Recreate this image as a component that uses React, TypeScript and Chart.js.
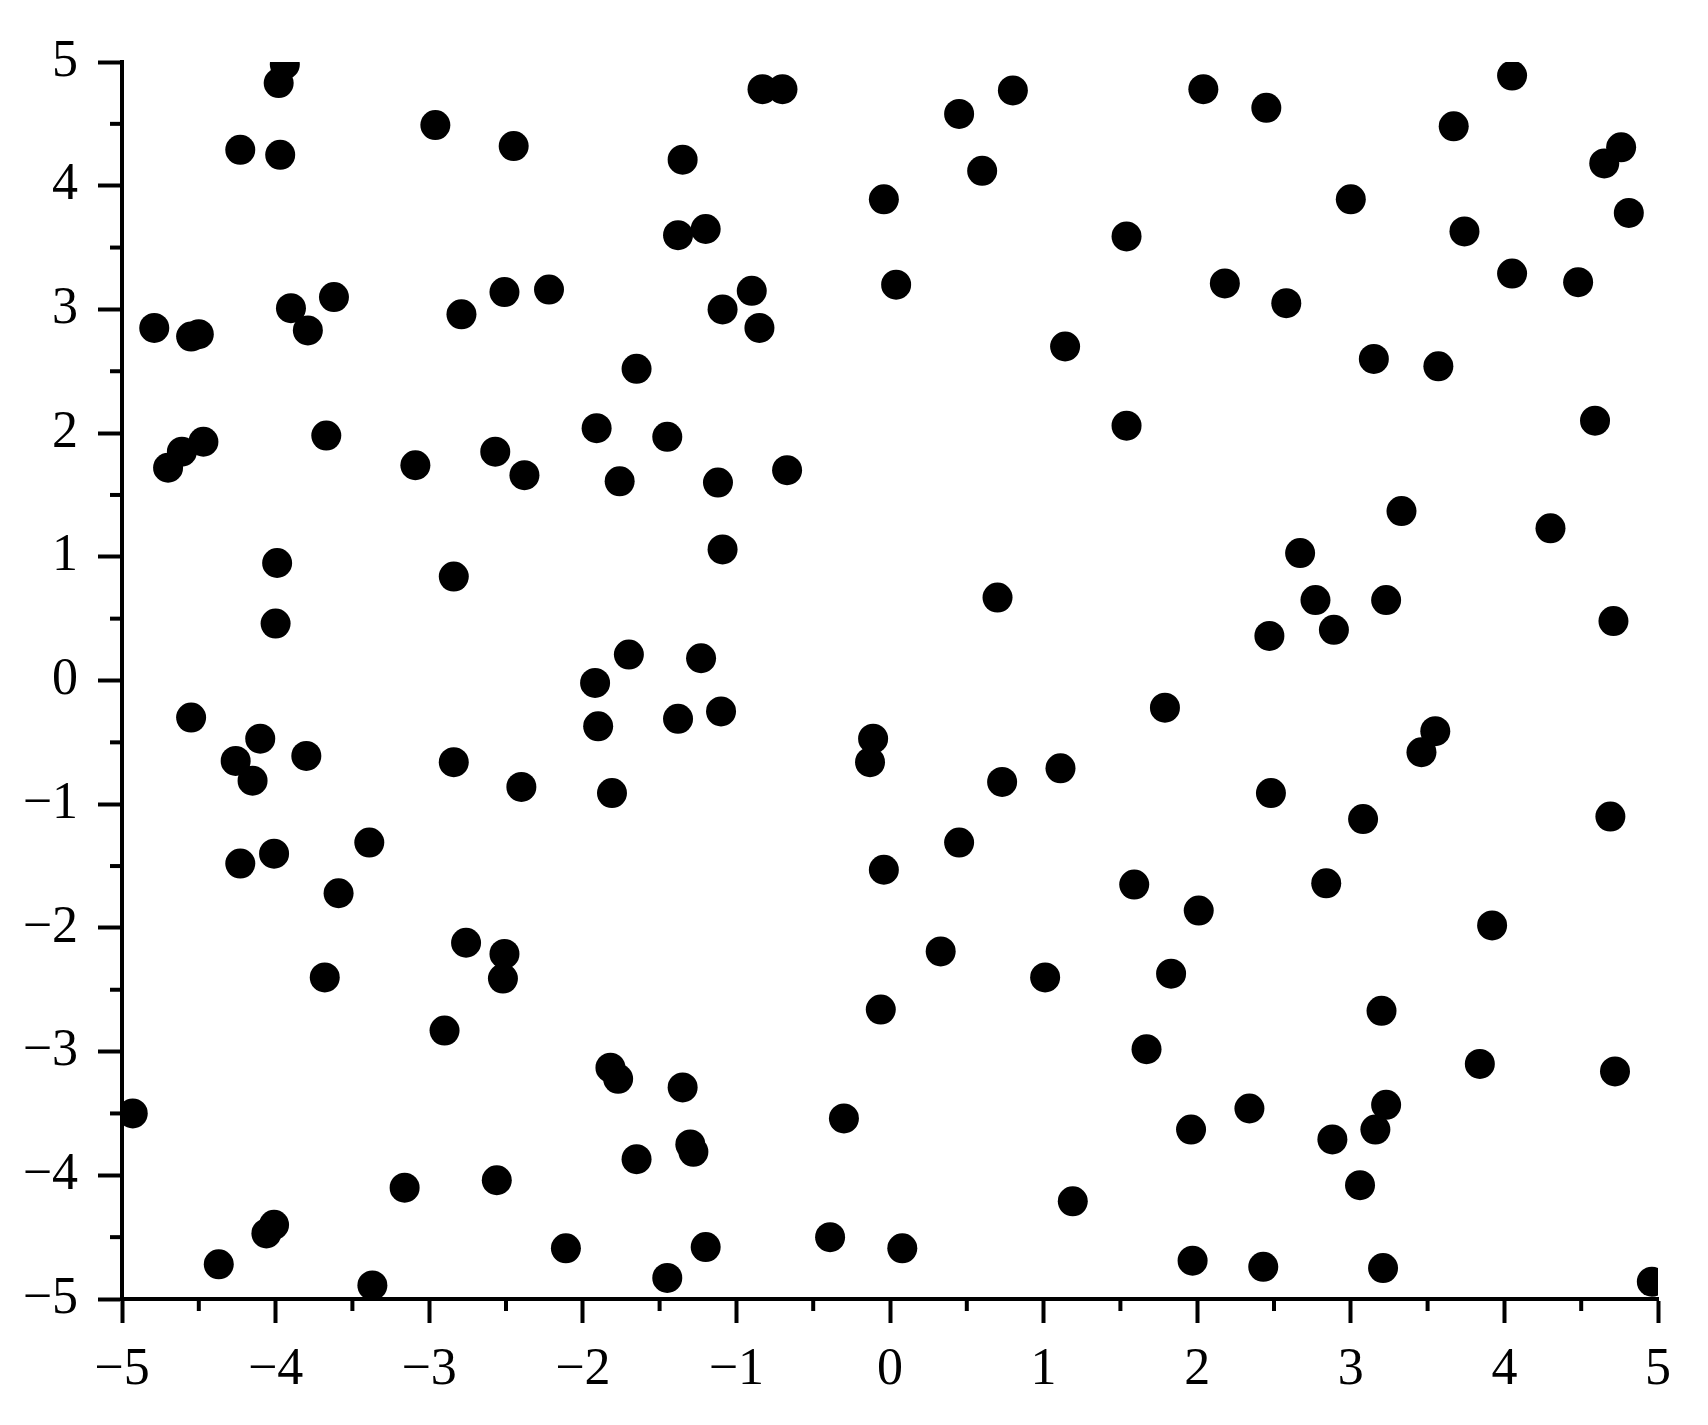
import React, { useEffect, useRef } from "react";
import { Chart, registerables } from "chart.js";

Chart.register(...registerables);

const xValues: number[] = [
  -4.93, -4.79, -4.70, -4.61, -4.47, -4.55, -4.50, -4.55, -4.23, -4.26,
  -4.15, -4.10, -4.23, -4.01, -4.37, -4.06, -4.01, -3.98, -3.94, -3.97,
  -3.90, -3.79, -3.62, -3.67, -3.99, -4.00, -3.80, -3.59, -3.68, -3.39,
  -3.37, -3.16, -2.96, -3.09, -2.79, -2.84, -2.84, -2.76, -2.90, -2.51,
  -2.45, -2.57, -2.38, -2.40, -2.51, -2.52, -2.56, -2.22, -2.11, -1.91,
  -1.65, -1.76, -1.92, -1.90, -1.70, -1.81, -1.82, -1.77, -1.65, -1.45,
  -1.45, -1.38, -1.35, -1.20, -1.38, -1.23, -1.35, -1.30, -1.28, -1.20,
  -1.09, -1.12, -1.09, -1.10, -0.90, -0.85, -0.83, -0.70, -0.67, -0.30,
  -0.39, -0.04, 0.04, -0.11, -0.13, -0.04, -0.06, 0.08, 0.45, 0.60,
  0.80, 0.70, 0.73, 0.45, 0.33, 1.14, 1.11, 1.01, 1.19, 1.54,
  1.54, 1.79, 1.59, 1.67, 1.83, 2.01, 1.96, 1.97, 2.04, 2.18,
  2.45, 2.58, 2.34, 2.43, 2.47, 2.48, 2.67, 2.77, 2.89, 2.84,
  2.88, 3.00, 3.15, 3.33, 3.23, 3.08, 3.20, 3.23, 3.16, 3.06,
  3.21, 3.57, 3.67, 3.74, 3.46, 3.55, 3.92, 3.84, 4.05, 4.05,
  4.30, 4.48, 4.59, 4.65, 4.76, 4.81, 4.71, 4.69, 4.72, 4.96,
];

const yValues: number[] = [
  -3.50, 2.85, 1.72, 1.85, 1.93, 2.78, 2.80, -0.30, 4.29, -0.65,
  -0.81, -0.47, -1.48, -1.40, -4.72, -4.47, -4.40, 4.83, 4.98, 4.25,
  3.01, 2.83, 3.10, 1.98, 0.95, 0.46, -0.61, -1.72, -2.40, -1.31,
  -4.89, -4.10, 4.49, 1.74, 2.96, 0.84, -0.66, -2.12, -2.83, 3.14,
  4.32, 1.85, 1.66, -0.86, -2.21, -2.41, -4.04, 3.16, -4.59, 2.04,
  2.52, 1.61, -0.02, -0.37, 0.21, -0.91, -3.13, -3.22, -3.87, -4.83,
  1.97, 3.60, 4.21, 3.65, -0.31, 0.18, -3.29, -3.75, -3.81, -4.58,
  3.00, 1.60, 1.06, -0.25, 3.15, 2.85, 4.78, 4.78, 1.70, -3.54,
  -4.50, 3.89, 3.20, -0.47, -0.66, -1.53, -2.66, -4.59, 4.58, 4.12,
  4.77, 0.67, -0.82, -1.31, -2.19, 2.70, -0.71, -2.40, -4.21, 3.59,
  2.06, -0.22, -1.65, -2.98, -2.37, -1.86, -3.63, -4.69, 4.78, 3.21,
  4.63, 3.05, -3.46, -4.74, 0.36, -0.91, 1.03, 0.65, 0.41, -1.64,
  -3.71, 3.89, 2.60, 1.37, 0.65, -1.12, -2.67, -3.43, -3.63, -4.08,
  -4.75, 2.54, 4.48, 3.63, -0.58, -0.41, -1.98, -3.10, 4.89, 3.29,
  1.23, 3.22, 2.10, 4.18, 4.31, 3.78, 0.48, -1.10, -3.16, -4.86,
];

const xTicks: number[] = [-5, -4, -3, -2, -1, 0, 1, 2, 3, 4, 5];
const yTicks: number[] = [-5, -4, -3, -2, -1, 0, 1, 2, 3, 4, 5];
const minorTicks: number[] = [-4.5, -3.5, -2.5, -1.5, -0.5, 0.5, 1.5, 2.5, 3.5, 4.5];

const fmt = (v: number) => (v < 0 ? "\u2212" + String(Math.abs(v)) : String(v));

const FONT = { family: "'Liberation Serif', 'Times New Roman', serif", size: 52 };

const minorTickPlugin = {
  id: "minorTicks",
  afterDraw(chart: any) {
    const ctx = chart.ctx;
    const xs = chart.scales.x;
    const ys = chart.scales.y;
    const area = chart.chartArea;
    ctx.save();
    ctx.strokeStyle = "#000";
    ctx.lineWidth = 4;
    ctx.lineCap = "butt";
    for (const v of minorTicks) {
      const px = xs.getPixelForValue(v);
      ctx.beginPath();
      ctx.moveTo(px, area.bottom);
      ctx.lineTo(px, area.bottom + 12);
      ctx.stroke();
      const py = ys.getPixelForValue(v);
      ctx.beginPath();
      ctx.moveTo(area.left, py);
      ctx.lineTo(area.left - 12, py);
      ctx.stroke();
    }
    ctx.restore();
  },
};

export default function App() {
  const ref = useRef<HTMLCanvasElement | null>(null);
  useEffect(() => {
    if (!ref.current) return;
    const data = xValues.map((x, i) => ({ x, y: yValues[i] }));
    const chart = new Chart(ref.current, {
      type: "scatter",
      data: {
        datasets: [
          {
            data,
            backgroundColor: "#000",
            borderWidth: 0,
            pointRadius: 15,
            pointHoverRadius: 15,
            clip: 0,
          } as any,
        ],
      },
      options: {
        animation: false,
        responsive: false,
        events: [],
        layout: { padding: { top: 62, right: 50, left: 0, bottom: 0 } },
        plugins: { legend: { display: false }, tooltip: { enabled: false } },
        scales: {
          x: {
            type: "linear",
            min: -5,
            max: 5,
            afterBuildTicks: (s: any) => {
              s.ticks = xTicks.map((v) => ({ value: v }));
            },
            afterFit: (s: any) => {
              s.height = 126;
            },
            grid: {
              drawOnChartArea: false,
              drawTicks: true,
              tickLength: 24,
              tickWidth: 4,
              tickColor: "#000",
              color: "#000",
            },
            border: { display: true, color: "#000", width: 4 },
            ticks: {
              color: "#000",
              font: FONT,
              padding: 16,
              maxRotation: 0,
              autoSkip: false,
              callback: (v: any) => fmt(Number(v)),
            },
          },
          y: {
            type: "linear",
            min: -5,
            max: 5,
            afterBuildTicks: (s: any) => {
              s.ticks = yTicks.map((v) => ({ value: v }));
            },
            afterFit: (s: any) => {
              s.width = 122;
            },
            grid: {
              drawOnChartArea: false,
              drawTicks: true,
              tickLength: 24,
              tickWidth: 4,
              tickColor: "#000",
              color: "#000",
            },
            border: { display: true, color: "#000", width: 4 },
            ticks: {
              color: "#000",
              font: FONT,
              padding: 20,
              autoSkip: false,
              callback: (v: any) => fmt(Number(v)),
            },
          },
        },
      },
      plugins: [minorTickPlugin],
    });
    return () => chart.destroy();
  }, []);
  return (
    <div style={{ position: "fixed", left: 0, top: 0, width: 1708, height: 1425, background: "#fff" }}>
      <canvas ref={ref} width={1708} height={1425} style={{ width: 1708, height: 1425 }} />
    </div>
  );
}
